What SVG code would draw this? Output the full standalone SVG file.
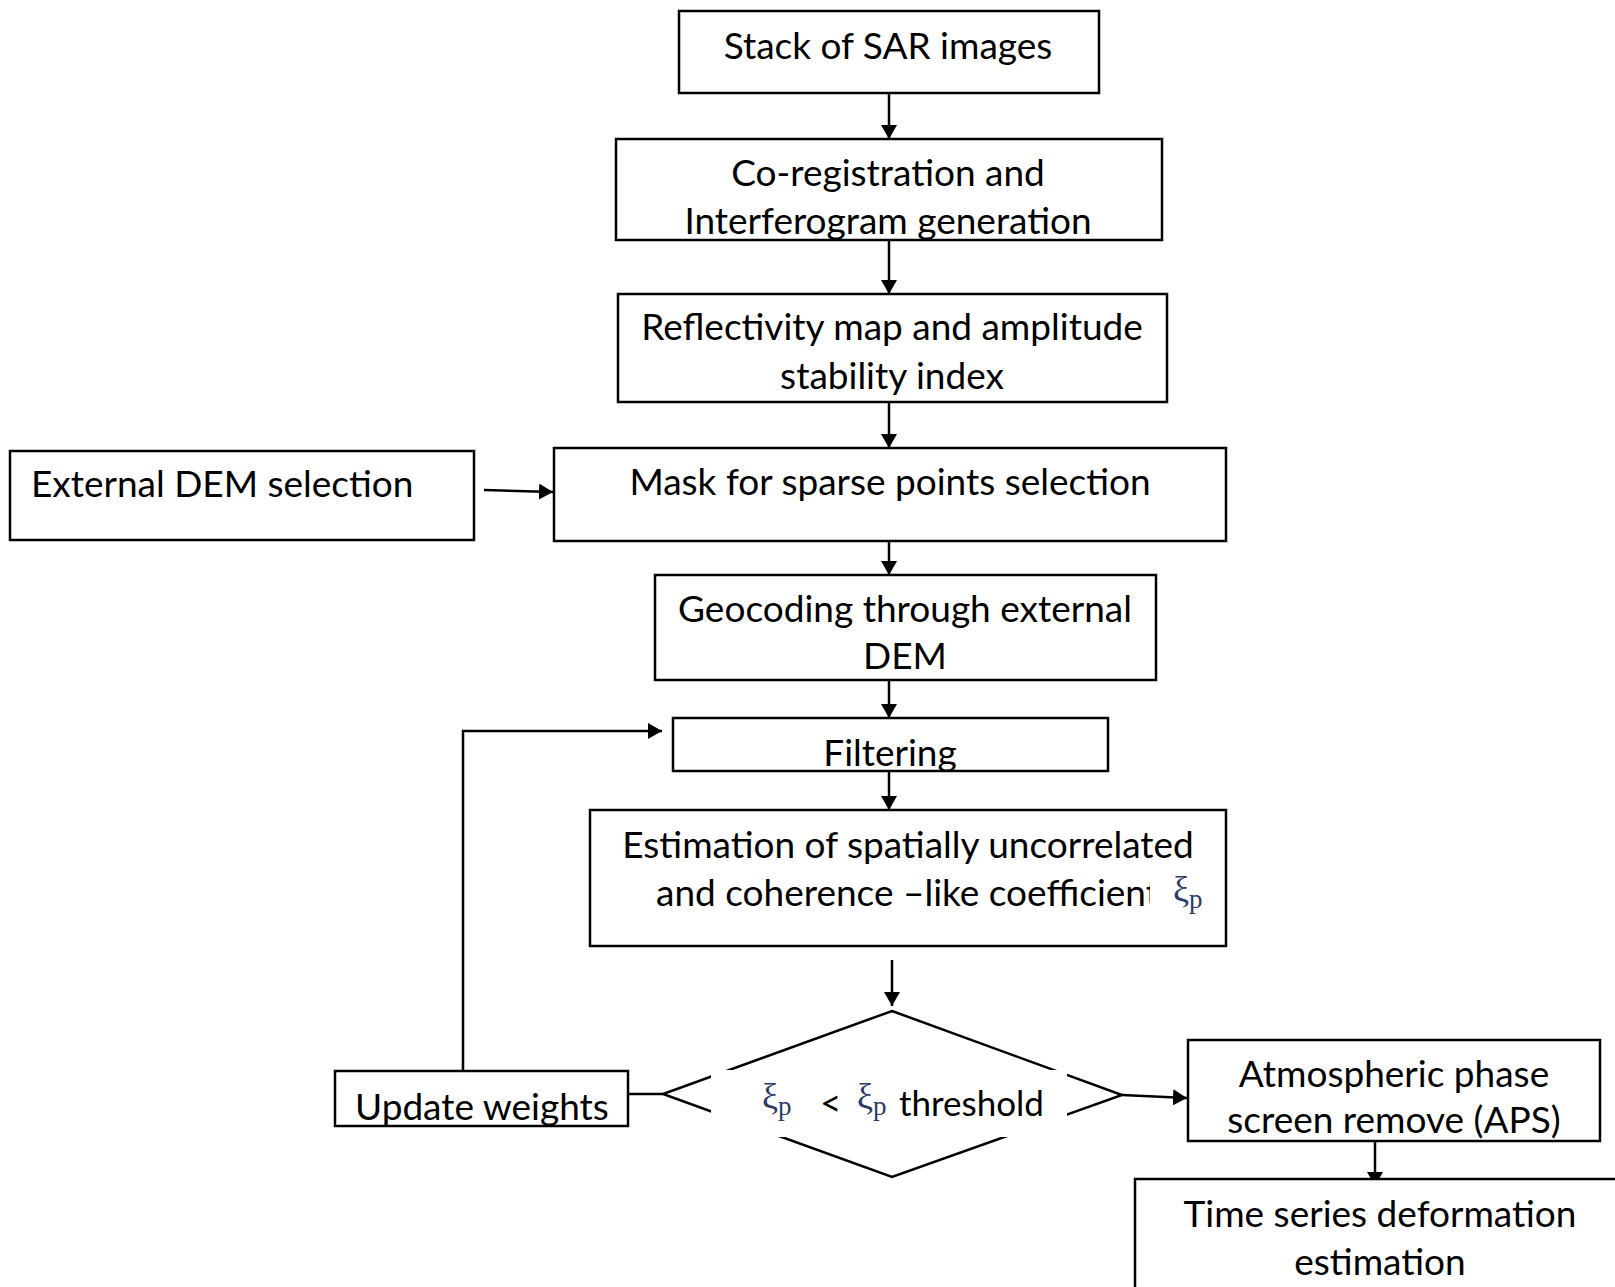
<svg xmlns="http://www.w3.org/2000/svg" width="1615" height="1287" viewBox="0 0 1615 1287">
<defs>
<style>
.box{fill:#fff;stroke:#000;stroke-width:2.5}
.t{font-family:Lato,"Liberation Sans",sans-serif;font-size:37px;fill:#000}
.c{text-anchor:middle}
.ln{fill:none;stroke:#000;stroke-width:2.5}
.xi{font-family:"Liberation Serif","DejaVu Serif",serif;fill:#2b3a66}
.th{font-size:35px}
</style>
<marker id="ah" viewBox="0 0 14 16" refX="14" refY="8" markerWidth="14" markerHeight="16" markerUnits="userSpaceOnUse" orient="auto">
<path d="M0,0 L14,8 L0,16 Z" fill="#000"/>
</marker>
</defs>
<rect width="1615" height="1287" fill="#fff"/>

<g id="connectors">
<line class="ln" x1="889" y1="93" x2="889" y2="139" marker-end="url(#ah)"/>
<line class="ln" x1="889" y1="240" x2="889" y2="294" marker-end="url(#ah)"/>
<line class="ln" x1="889" y1="402" x2="889" y2="448" marker-end="url(#ah)"/>
<line class="ln" x1="484" y1="490" x2="553" y2="492" marker-end="url(#ah)"/>
<line class="ln" x1="889" y1="541" x2="889" y2="575" marker-end="url(#ah)"/>
<line class="ln" x1="889" y1="680" x2="889" y2="718" marker-end="url(#ah)"/>
<line class="ln" x1="889" y1="771" x2="889" y2="810" marker-end="url(#ah)"/>
<line class="ln" x1="892" y1="960" x2="892" y2="1006" marker-end="url(#ah)"/>
<polyline class="ln" points="463,1071 463,731 662,731" marker-end="url(#ah)"/>
<line class="ln" x1="628" y1="1094" x2="663" y2="1094"/>
<line class="ln" x1="1122" y1="1095" x2="1187" y2="1098" marker-end="url(#ah)"/>
<line class="ln" x1="1375" y1="1141" x2="1375" y2="1186" marker-end="url(#ah)"/>
</g>

<g id="n-stack">
<rect class="box" x="679" y="11" width="420" height="82"/>
<text class="t c" x="888" y="59">Stack of SAR images</text>
</g>

<g id="n-coreg">
<rect class="box" x="616" y="139" width="546" height="101"/>
<text class="t c" x="888" y="186">Co-registration and</text>
<text class="t c" x="888" y="234">Interferogram generation</text>
</g>

<g id="n-reflect">
<rect class="box" x="618" y="294" width="549" height="108"/>
<text class="t c" x="892" y="340">Reflectivity map and amplitude</text>
<text class="t c" x="892" y="389">stability index</text>
</g>

<g id="n-extdem">
<rect class="box" x="10" y="451" width="464" height="89"/>
<text class="t" x="31" y="497">External DEM selection</text>
</g>

<g id="n-mask">
<rect class="box" x="554" y="448" width="672" height="93"/>
<text class="t c" x="890" y="495">Mask for sparse points selection</text>
</g>

<g id="n-geocode">
<rect class="box" x="655" y="575" width="501" height="105"/>
<text class="t c" x="905" y="622">Geocoding through external</text>
<text class="t c" x="905" y="669">DEM</text>
</g>

<g id="n-filter">
<rect class="box" x="673" y="718" width="435" height="53"/>
<text class="t c" x="890" y="766">Filtering</text>
</g>

<g id="n-estim">
<rect class="box" x="590" y="810" width="636" height="136"/>
<text class="t c" x="908" y="858">Estimation of spatially uncorrelated</text>
<text class="t" x="656" y="906">and coherence –like coefficient</text>
<rect x="1150" y="870" width="55" height="52" fill="#fff"/>
<text class="xi" x="1173" y="901" font-size="36">ξ<tspan font-size="27" dy="7">p</tspan></text>
</g>

<g id="n-decision">
<polygon class="ln" points="892,1011 1122,1095 892,1177 663,1094"/>
<rect x="711" y="1070" width="356" height="67" fill="#fff"/>
<text class="xi" x="762" y="1108" font-size="36">ξ<tspan font-size="27" dy="7">p</tspan></text>
<text class="t" x="820" y="1116">&lt;</text>
<text class="xi" x="857" y="1108" font-size="36">ξ<tspan font-size="27" dy="7">p</tspan></text>
<text class="t th" x="899" y="1116">threshold</text>
</g>

<g id="n-update">
<rect class="box" x="335" y="1071" width="293" height="55"/>
<text class="t" x="355" y="1120">Update weights</text>
</g>

<g id="n-aps">
<rect class="box" x="1188" y="1040" width="412" height="101"/>
<text class="t c" x="1394" y="1087">Atmospheric phase</text>
<text class="t c" x="1394" y="1133">screen remove (APS)</text>
</g>

<g id="n-timeseries">
<rect class="box" x="1135" y="1179" width="500" height="130"/>
<text class="t c" x="1380" y="1227">Time series deformation</text>
<text class="t c" x="1380" y="1275">estimation</text>
</g>
</svg>
